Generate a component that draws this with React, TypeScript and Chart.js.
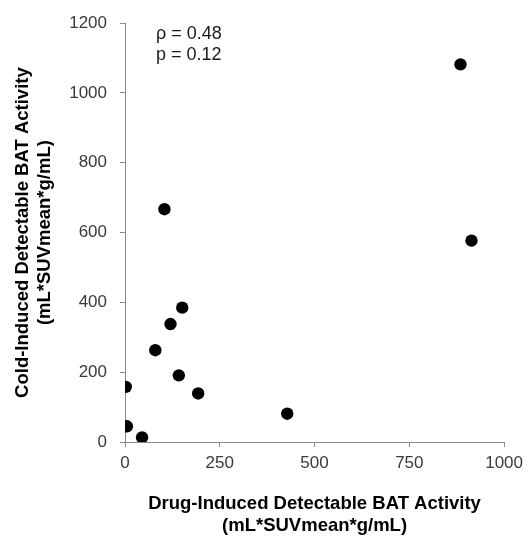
import React, { useEffect, useRef } from "react";
import { Chart, registerables } from "chart.js";

Chart.register(...registerables);

const drugInduced = [104, 151, 120, 80, 142, 193, 2, 5, 45, 428, 885, 914];
const coldInduced = [667, 385, 338, 263, 191, 139, 158, 45, 13, 81, 1082, 577];
const xTitle = ["Drug-Induced Detectable BAT Activity", "(mL*SUVmean*g/mL)"];
const yTitle = ["Cold-Induced Detectable BAT Activity", "(mL*SUVmean*g/mL)"];
const statLines = ["\u03c1 = 0.48", "p = 0.12"];

const FONT = "'Liberation Sans', Arial, sans-serif";
const AXIS = "#8a8a8a";

const annotationPlugin = {
  id: "statText",
  afterDraw(chart: any) {
    const ctx = chart.ctx;
    const { left, top } = chart.chartArea;
    ctx.save();
    ctx.font = `18px ${FONT}`;
    ctx.fillStyle = "#1a1a1a";
    ctx.textBaseline = "middle";
    ctx.textAlign = "left";
    statLines.forEach((t, i) => {
      ctx.fillText(t, left + 31, top + 11 + i * 21);
    });
    ctx.restore();
  },
};

export default function App() {
  const ref = useRef<HTMLCanvasElement | null>(null);
  useEffect(() => {
    if (!ref.current) return;
    const chart = new Chart(ref.current, {
      type: "scatter",
      data: {
        datasets: [
          {
            data: drugInduced.map((x, i) => ({ x, y: coldInduced[i] })),
            backgroundColor: "#000",
            borderWidth: 0,
            pointRadius: 6.2,
            pointHoverRadius: 6.2,
          },
        ],
      },
      options: {
        responsive: false,
        animation: false,
        layout: { padding: { top: 19, right: 22, left: 0, bottom: 0 } },
        plugins: { legend: { display: false }, tooltip: { enabled: false } },
        scales: {
          x: {
            type: "linear",
            min: 0,
            max: 1000,
            afterFit: (s: any) => {
              s.height = 98;
            },
            ticks: {
              stepSize: 250,
              color: "#3a3a3a",
              font: { family: FONT, size: 17 },
              padding: 6,
              callback: (v: any) => String(v),
            },
            grid: { drawOnChartArea: false, drawTicks: true, tickLength: 5, color: AXIS, tickColor: AXIS },
            border: { display: true, color: AXIS, width: 1 },
            title: {
              display: true,
              text: xTitle,
              color: "#000",
              font: { family: FONT, size: 18.5, weight: "bold", lineHeight: 1.22 },
              padding: { top: 0, bottom: 2.5 },
            },
          },
          y: {
            type: "linear",
            min: 0,
            max: 1200,
            afterFit: (s: any) => {
              s.width = 125;
            },
            ticks: {
              stepSize: 200,
              color: "#3a3a3a",
              font: { family: FONT, size: 17 },
              padding: 13,
              callback: (v: any) => String(v),
            },
            grid: { drawOnChartArea: false, drawTicks: true, tickLength: 5, color: AXIS, tickColor: AXIS },
            border: { display: true, color: AXIS, width: 1 },
            title: {
              display: true,
              text: yTitle,
              color: "#000",
              font: { family: FONT, size: 18.5, weight: "bold", lineHeight: 1.22 },
              padding: { top: 11.5, bottom: 0 },
            },
          },
        },
      },
      plugins: [annotationPlugin],
    });
    return () => chart.destroy();
  }, []);
  return (
    <div style={{ position: "absolute", left: 0, top: 0, width: 529, height: 540, background: "#fff" }}>
      <canvas ref={ref} width={529} height={540} />
    </div>
  );
}
